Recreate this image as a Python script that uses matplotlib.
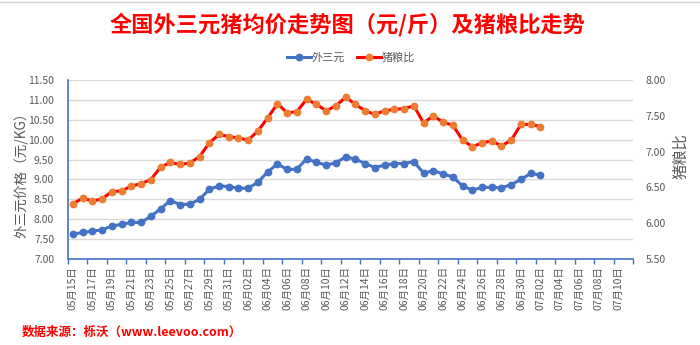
import datetime as dt
import matplotlib
matplotlib.use("Agg")
import matplotlib.pyplot as plt
from matplotlib.lines import Line2D

plt.rcParams['font.family'] = ['Noto Sans CJK SC', 'DejaVu Sans']

# Daily series starting 05-15
start_date = dt.date(2020, 5, 15)
axis_days = 58  # category slots shown on the x axis (05-15 .. 07-11)

price_wsy = [7.62, 7.67, 7.70, 7.73, 7.83, 7.87, 7.92, 7.92, 8.07, 8.26,
             8.47, 8.37, 8.38, 8.50, 8.75, 8.84, 8.82, 8.78, 8.78, 8.93,
             9.19, 9.39, 9.25, 9.26, 9.52, 9.43, 9.36, 9.42, 9.57, 9.51,
             9.40, 9.30, 9.36, 9.40, 9.40, 9.45, 9.16, 9.22, 9.14, 9.06,
             8.84, 8.73, 8.80, 8.80, 8.79, 8.87, 9.00, 9.15, 9.11]

hog_grain_ratio = [6.27, 6.35, 6.31, 6.34, 6.44, 6.45, 6.52, 6.55, 6.61, 6.78,
                   6.85, 6.82, 6.84, 6.93, 7.12, 7.24, 7.21, 7.19, 7.16, 7.29,
                   7.47, 7.67, 7.54, 7.56, 7.73, 7.66, 7.57, 7.64, 7.76, 7.66,
                   7.57, 7.52, 7.57, 7.59, 7.60, 7.64, 7.40, 7.50, 7.41, 7.37,
                   7.16, 7.07, 7.12, 7.15, 7.08, 7.16, 7.38, 7.38, 7.35]

series_names = ['外三元', '猪粮比']
title_text = '全国外三元猪均价走势图（元/斤）及猪粮比走势'
source_text = '数据来源：栎沃（www.leevoo.com）'
left_label = '外三元价格（元/KG）'
right_label = '猪粮比'

dates = [start_date + dt.timedelta(days=i) for i in range(axis_days)]
date_labels = [d.strftime('%m月%d日') for d in dates]

BLUE = '#4472C4'
RED = '#FF0000'
ORANGE = '#ED7D31'
GRAY = '#595959'
GRID = '#D9D9D9'

fig = plt.figure(figsize=(7.0, 3.45), dpi=100)
ax = fig.add_axes([68 / 700, 1 - 259 / 345, (633 - 68) / 700, (259 - 80) / 345])
ax2 = ax.twinx()

x1 = list(range(len(price_wsy)))
x2 = list(range(len(hog_grain_ratio)))

ax.plot(x1, price_wsy, color=BLUE, lw=2.2, marker='o', ms=4.6,
        mfc=BLUE, mec=BLUE, zorder=3, solid_joinstyle='round')
ax2.plot(x2, hog_grain_ratio, color=RED, lw=2.2, marker='o', ms=4.6,
         mfc=ORANGE, mec=ORANGE, zorder=3, solid_joinstyle='round')

ax.set_xlim(-0.5, axis_days - 0.5)
ax.set_ylim(7.0, 11.5)
ax2.set_ylim(5.5, 8.0)

left_ticks = [7.0 + 0.5 * i for i in range(10)]
right_ticks = [5.5 + 0.5 * i for i in range(6)]
ax.set_yticks(left_ticks)
ax.set_yticklabels([f'{v:.2f}' for v in left_ticks])
ax2.set_yticks(right_ticks)
ax2.set_yticklabels([f'{v:.2f}' for v in right_ticks])

ax.yaxis.grid(True, color=GRID, lw=1.0)
ax.set_axisbelow(True)

label_idx = list(range(0, axis_days, 2))
ax.set_xticks(label_idx)
ax.set_xticklabels([date_labels[i] for i in label_idx], rotation=90,
                   fontsize=7.5, color=GRAY)
ax.set_xticks([i - 0.5 for i in label_idx] + [axis_days - 0.5], minor=True)
ax.tick_params(axis='x', which='major', length=0, pad=5)
ax.tick_params(axis='x', which='minor', length=3.5, color=BLUE, width=1)
ax.tick_params(axis='y', length=0, labelsize=7.5, labelcolor=GRAY, pad=10)
ax2.tick_params(axis='y', length=0, labelsize=7.5, labelcolor=GRAY, pad=9)

for a in (ax, ax2):
    a.spines['top'].set_visible(False)
    a.spines['right'].set_visible(False)
ax2.spines['left'].set_visible(False)
ax2.spines['bottom'].set_visible(False)
ax.spines['left'].set_color(BLUE)
ax.spines['bottom'].set_color(BLUE)
ax.spines['left'].set_linewidth(1.2)
ax.spines['bottom'].set_linewidth(1.2)

fig.text(21 / 700, 1 - 172 / 345, left_label, rotation=90, fontsize=9.8,
         color=GRAY, ha='center', va='center')
fig.text(681 / 700, 1 - 156 / 345, right_label, rotation=90, fontsize=11,
         color=GRAY, ha='center', va='center')

fig.text(348 / 700, 1 - 25 / 345, title_text, fontsize=16, fontweight='bold',
         color=RED, ha='center', va='center')
fig.text(22 / 700, 1 - 332 / 345, source_text, fontsize=9, fontweight='bold',
         color=RED, ha='left', va='center')

handles = [Line2D([0], [0], color=BLUE, lw=2.2, marker='o', ms=4.6, mfc=BLUE, mec=BLUE),
           Line2D([0], [0], color=RED, lw=2.2, marker='o', ms=4.6, mfc=ORANGE, mec=ORANGE)]
fig.legend(handles, series_names, loc='center', bbox_to_anchor=(351 / 700, 1 - 58 / 345),
           ncol=2, frameon=False, fontsize=8, labelcolor=GRAY, handlelength=2.2,
           handletextpad=0.1, columnspacing=1.0)

fig.add_artist(Line2D([0, 1], [1 - 2 / 345, 1 - 2 / 345], color='#D0D0D0', lw=1.0))

fig.savefig('out.png', dpi=100, facecolor='white')
